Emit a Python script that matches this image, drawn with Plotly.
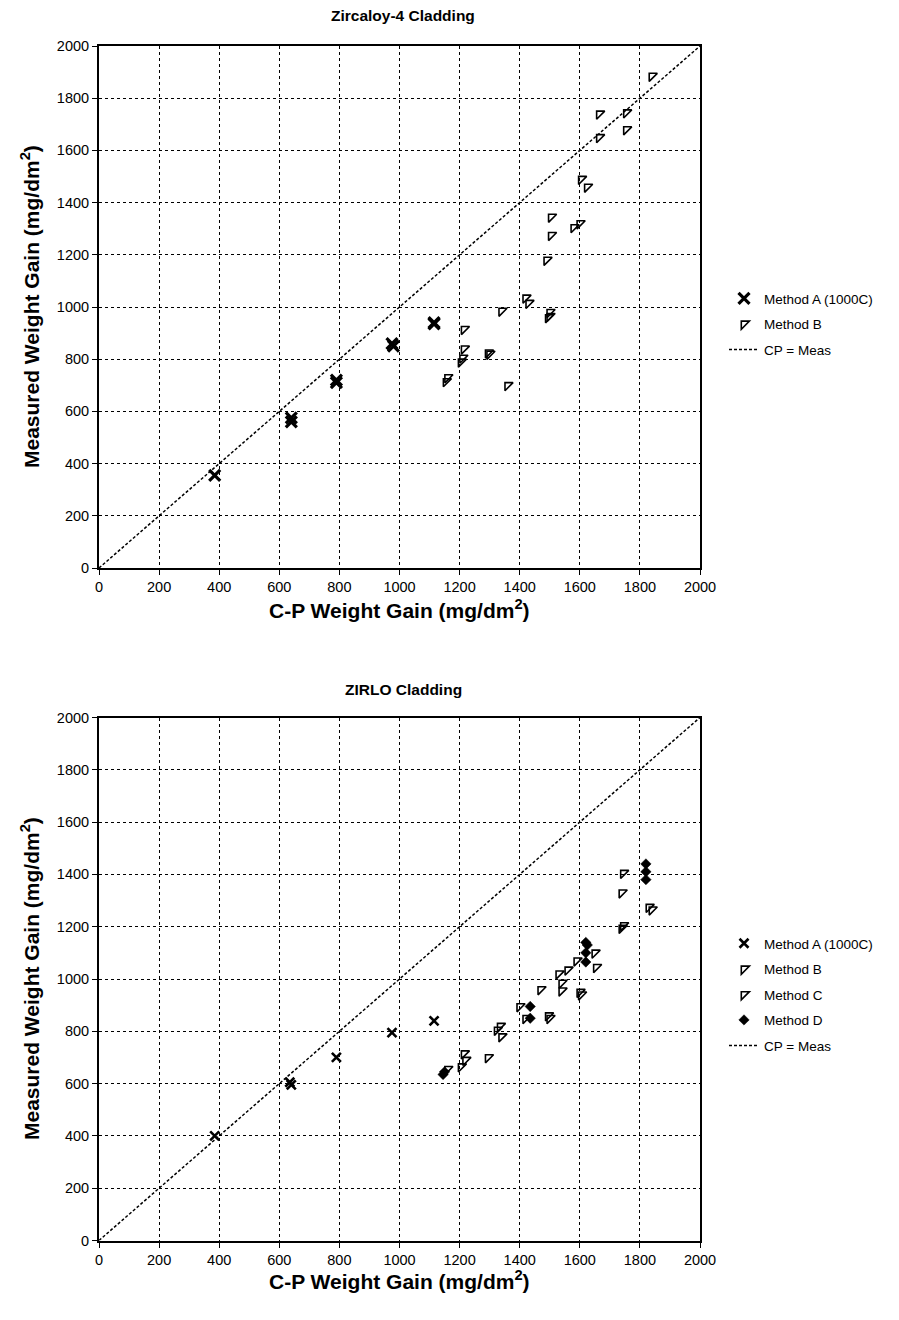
import plotly.graph_objects as go

# ---------------- data ----------------
# Zircaloy-4 Cladding
zr_a_x = [385, 640, 640, 790, 790, 975, 980, 1115, 1115]
zr_a_y = [355, 575, 560, 720, 710, 860, 850, 940, 935]
zr_b_x = [1160, 1155, 1215, 1215, 1210, 1205, 1295, 1300, 1360, 1340, 1420, 1430, 1500,
          1500, 1495, 1490, 1505, 1505, 1580, 1600, 1605, 1625, 1665, 1665, 1755, 1755, 1840]
zr_b_y = [730, 715, 915, 840, 805, 790, 825, 820, 700, 985, 1035, 1015, 980,
          965, 960, 1180, 1275, 1345, 1305, 1320, 1490, 1460, 1650, 1740, 1745, 1680, 1885]

# ZIRLO Cladding
zl_a_x = [385, 635, 640, 790, 975, 1115]
zl_a_y = [400, 605, 595, 700, 795, 840]
zl_b_x = [1160, 1215, 1295, 1340, 1420, 1495, 1500, 1600, 1605, 1740, 1830, 1840]
zl_b_y = [655, 715, 700, 780, 850, 860, 850, 950, 940, 1195, 1275, 1265]
zl_c_x = [1205, 1220, 1325, 1335, 1400, 1470, 1530, 1540, 1540, 1560, 1590, 1650, 1655,
          1745, 1740, 1745]
zl_c_y = [665, 690, 805, 820, 895, 960, 1020, 985, 955, 1035, 1070, 1100, 1045,
          1405, 1330, 1205]
zl_d_x = [1150, 1145, 1435, 1435, 1620, 1625, 1620, 1620, 1820, 1820, 1820]
zl_d_y = [645, 635, 895, 850, 1140, 1130, 1100, 1065, 1440, 1410, 1380]

cp_line = [0, 2000]

ticks = [0, 200, 400, 600, 800, 1000, 1200, 1400, 1600, 1800, 2000]

FONT = "Liberation Sans, Arial, sans-serif"
W, H = 899, 1320

fig = go.Figure()


def add_sets(sets, xa, ya, legend):
    for name, xs, ys, mk in sets:
        fig.add_trace(go.Scatter(
            x=xs, y=ys, mode="markers", name=name, marker=mk,
            xaxis=xa, yaxis=ya, legend=legend, legendgroup=legend + name))
    fig.add_trace(go.Scatter(
        x=cp_line, y=cp_line, mode="lines", name="CP = Meas",
        line=dict(color="black", width=1.5, dash="3px,2px"),
        xaxis=xa, yaxis=ya, legend=legend, legendgroup=legend + "cp"))


mk_a_top = dict(symbol="x-thin", size=11, line=dict(color="black", width=3.2), color="black")
mk_a_bot = dict(symbol="x-thin", size=9, line=dict(color="black", width=2.6), color="black")
mk_b = dict(symbol="triangle-nw-open", size=9, color="black", line=dict(color="black", width=1.6))
mk_d = dict(symbol="diamond", size=8, color="black", line=dict(color="black", width=0.5))

add_sets([
    ("Method A (1000C)", zr_a_x, zr_a_y, mk_a_top),
    ("Method B", zr_b_x, zr_b_y, mk_b),
], "x", "y", "legend")

add_sets([
    ("Method A (1000C)", zl_a_x, zl_a_y, mk_a_bot),
    ("Method B", zl_b_x, zl_b_y, mk_b),
    ("Method C", zl_c_x, zl_c_y, mk_b),
    ("Method D", zl_d_x, zl_d_y, mk_d),
], "x2", "y2", "legend2")

xdom = [99 / W, 700 / W]
top_dom = [1 - 568 / H, 1 - 46 / H]
bot_dom = [1 - 1240.5 / H, 1 - 717.5 / H]

axis_common = dict(
    range=[0, 2000], tickvals=ticks, showgrid=True, gridcolor="black", gridwidth=1,
    griddash="dot", showline=True, linecolor="black", linewidth=2, mirror=True,
    ticks="outside", ticklen=5, tickcolor="black", tickwidth=1,
    tickfont=dict(family=FONT, size=14.5, color="black"), zeroline=False,
    automargin=False,
)

TF = dict(family=FONT, size=21, color="black")
xt = "<b>C-P Weight Gain (mg/dm<sup>2</sup>)</b>"
yt = "<b>Measured Weight Gain (mg/dm<sup>2</sup>)</b>"
xc = (99 + 700) / 2 / W


def ann(text, x, y, size_font, angle=0):
    return dict(text=text, x=x, y=y, xref="paper", yref="paper", showarrow=False,
                xanchor="center", yanchor="middle", textangle=angle, font=size_font)


fig.update_layout(
    width=W, height=H, autosize=False,
    margin=dict(l=0, r=0, t=0, b=0),
    paper_bgcolor="white", plot_bgcolor="white",
    font=dict(family=FONT, color="black"),
    showlegend=True,
    xaxis=dict(axis_common, domain=xdom, anchor="y"),
    yaxis=dict(axis_common, domain=top_dom, anchor="x"),
    xaxis2=dict(axis_common, domain=xdom, anchor="y2"),
    yaxis2=dict(axis_common, domain=bot_dom, anchor="x2"),
    legend=dict(x=724 / W, y=1 - 283 / H, xanchor="left", yanchor="top",
                font=dict(family=FONT, size=13.5, color="black"),
                traceorder="grouped", tracegroupgap=5, bgcolor="rgba(0,0,0,0)"),
    legend2=dict(x=724 / W, y=1 - 928 / H, xanchor="left", yanchor="top",
                 font=dict(family=FONT, size=13.5, color="black"),
                 traceorder="grouped", tracegroupgap=5, bgcolor="rgba(0,0,0,0)"),
    annotations=[
        ann("<b>Zircaloy-4 Cladding</b>", 403 / W, 1 - 16 / H, dict(family=FONT, size=15.5, color="black")),
        ann("<b>ZIRLO Cladding</b>", 403 / W, 1 - 689 / H, dict(family=FONT, size=15.5, color="black")),
        ann(xt, xc, 1 - 609 / H, TF),
        ann(xt, xc, 1 - 1280 / H, TF),
        ann(yt, 30 / W, 1 - 307 / H, TF, -90),
        ann(yt, 30 / W, 1 - 979 / H, TF, -90),
    ],
)

fig.write_html("out.html", config={"displayModeBar": False},
               post_script="document.body.style.margin='0px';")
